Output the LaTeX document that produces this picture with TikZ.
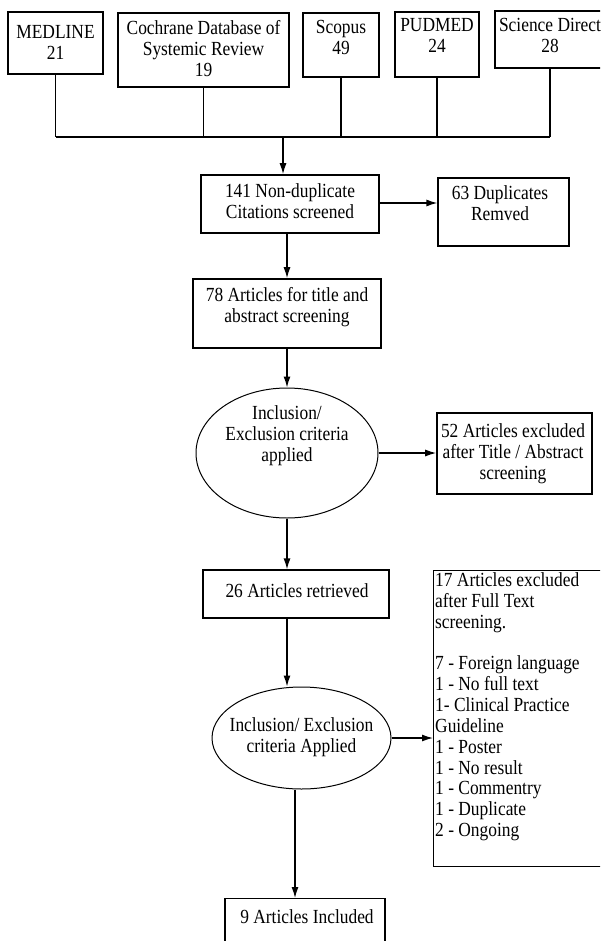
\documentclass[tikz,border=0pt]{standalone}
\usepackage{fontspec}
\setmainfont{Liberation Serif}
\usetikzlibrary{arrows.meta,shapes.geometric}
\newcommand\diagfs{\fontsize{17.4}{18.26}\selectfont}
\newcommand\vt[2][c]{\scalebox{1}[1.15]{\begin{tabular}{@{}#1@{}}#2\end{tabular}}}
\begin{document}
\begin{tikzpicture}[x=1pt,y=-1pt,
  box/.style={draw, line width=1.2pt, rectangle, inner sep=0pt},
  thickbox/.style={box, line width=1.6pt},
  oval/.style={draw, line width=1pt, ellipse, inner sep=0pt},
  txt/.style={align=center, inner sep=0pt, font=\diagfs},
  conn/.style={line width=1.3pt},
  arr/.style={conn, -{Latex[length=11pt,width=7pt]}}]
\useasboundingbox (0,0) rectangle (600,941);
\fill[white] (0,0) rectangle (600,941);
\clip (0,0) rectangle (600,941);

% sources
\node[box, minimum width=95pt, minimum height=62pt] (med) at (55.5,43) {};
\node[txt] (medt) at (55.5,45) {\vt{MEDLINE\\21}};
\node[thickbox, minimum width=171pt, minimum height=74pt] (coch) at (203.5,50) {};
\node[txt] (cocht) at (203.5,51) {\vt{Cochrane Database of\\Systemic Review\\19}};
\node[box, minimum width=76pt, minimum height=64pt] (sco) at (341,45) {};
\node[txt] (scot) at (341,40) {\vt{Scopus\\49}};
\node[thickbox, minimum width=84pt, minimum height=65pt] (pud) at (437,44.5) {};
\node[txt] (pudt) at (437,37.5) {\vt{PUDMED\\24}};
\node[box, minimum width=110pt, minimum height=57pt] (sd) at (550,39.5) {};
\node[txt] (sdt) at (550,37.5) {\vt{Science Direct\\28}};

\coordinate (bus) at (0,137);
\coordinate (busA) at (283,137);
\draw[conn] (med.south) -- (med.south |- bus);
\draw[conn] (coch.south) -- (coch.south |- bus);
\draw[conn] (sco.south) -- (sco.south |- bus);
\draw[conn] (pud.south) -- (pud.south |- bus);
\draw[conn] (sd.south) -- (sd.south |- bus);
\draw[conn] (med.south |- bus) -- (sd.south |- bus);

% 141
\node[thickbox, minimum width=178pt, minimum height=58pt] (n141) at (290,204) {};
\node[txt] (n141t) at (290,203.5) {\vt{141 Non-duplicate\\Citations screened}};
\draw[arr] (busA) -- (busA |- n141.north);

\node[box, minimum width=131pt, minimum height=68pt] (dup) at (503.5,212) {};
\node[txt] (dupt) at (500,206) {\vt{63 Duplicates\\Remved}};
\draw[arr] (n141.east |- 0,203) -- (dup.west |- 0,203);

% 78
\node[thickbox, minimum width=188pt, minimum height=69pt] (n78) at (287,313.5) {};
\node[txt] (n78t) at (287,307.5) {\vt{78 Articles for title and\\abstract screening}};
\draw[arr] (n78.north |- n141.south) -- (n78.north);

% ellipse 1
\node[oval, minimum width=182pt, minimum height=130pt] (e1) at (287,453) {};
\node[txt] (e1t) at (287,436.5) {\vt{Inclusion/\\Exclusion criteria\\applied}};
\draw[arr] (n78.south) -- (e1.north);

\node[thickbox, minimum width=155pt, minimum height=81pt] (n52) at (514.5,453.5) {};
\node[txt] (n52t) at (513,454) {\vt{52 Articles excluded\\after Title / Abstract\\screening}};
\draw[arr] (e1.east) -- (e1.east -| n52.west);

% 26
\node[box, minimum width=186pt, minimum height=48pt] (n26) at (296,594) {};
\node[txt] (n26t) at (297,593) {\vt{26 Articles retrieved}};
\draw[arr] (e1.south) -- (e1.south |- n26.north);

% ellipse 2
\node[oval, minimum width=179pt, minimum height=102pt] (e2) at (301.5,738) {};
\node[txt] (e2t) at (301.5,737.5) {\vt{Inclusion/ Exclusion\\criteria Applied}};
\path ([xshift=-9pt]n26.south) coordinate (n26s);
\draw[arr] (n26s) -- (n26s |- e2.north);

% 17 box
\node[box, anchor=north west, minimum width=172pt, minimum height=296pt] (n17) at (433,570) {};
\node[anchor=north west, inner sep=0pt, font={\fontsize{17.4}{18.09}\selectfont}] (n17t) at (435,572)
  {\vt[l]{17 Articles excluded\\after Full Text\\screening.\\ \\7 - Foreign language\\1 - No full text\\1- Clinical Practice\\Guideline\\1 - Poster\\1 - No result\\1 - Commentry\\1 - Duplicate\\2 - Ongoing}};
\draw[arr] (e2.east) -- (e2.east -| n17.west);

% 9
\node[box, anchor=north, minimum width=160pt, minimum height=60pt] (n9) at (305,898) {};
\node[txt] (n9t) at (307,919) {\vt{9 Articles Included}};
\path ([xshift=-6.5pt]e2.south) coordinate (e2s);
\draw[arr] (e2s) -- (e2s |- n9.north);
\end{tikzpicture}
\end{document}
